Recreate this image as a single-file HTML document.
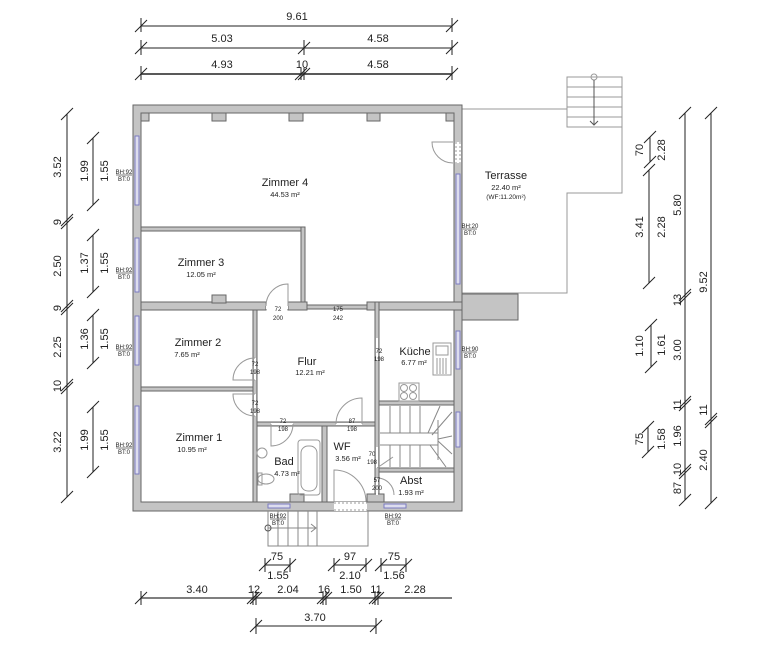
<!DOCTYPE html>
<html><head><meta charset="utf-8"><style>
html,body{margin:0;padding:0;background:#fff}
svg{display:block}
text{font-family:"Liberation Sans",sans-serif;fill:#222}
.d{font-size:11px;text-anchor:middle}
.r{font-size:11px;text-anchor:middle}
.a{font-size:7.5px;text-anchor:middle}
.s{font-size:6.5px;text-anchor:middle}
.t{font-size:6px;text-anchor:middle}
.w{fill:#c4c4c4;stroke:#666;stroke-width:1}
.ln{stroke:#222;stroke-width:1;fill:none}
.th{stroke:#999;stroke-width:1;fill:none}
</style></head><body>
<svg width="768" height="655" viewBox="0 0 768 655" xmlns="http://www.w3.org/2000/svg">
<defs>
<g id="tk"><line x1="-6" y1="6" x2="6" y2="-6" stroke="#222" stroke-width="1"/></g>
</defs>
<!-- terrace -->
<path d="M462 109 H567 M622 127 V193 H567 V293 H462" class="th"/>
<rect x="567" y="77" width="55" height="50" class="th"/>
<line x1="567" y1="87" x2="622" y2="87" class="th"/><line x1="567" y1="97" x2="622" y2="97" class="th"/>
<line x1="567" y1="107" x2="622" y2="107" class="th"/><line x1="567" y1="117" x2="622" y2="117" class="th"/>
<circle cx="594" cy="77" r="3" class="th" stroke="#555"/>
<line x1="594" y1="80" x2="594" y2="125" stroke="#555"/><path d="M590 121 L594 125 L598 121" stroke="#555" fill="none"/>
<rect x="462" y="294" width="56" height="26" class="w"/>
<text class="r" x="506" y="179">Terrasse</text>
<text class="a" x="506" y="190">22.40 m²</text>
<text class="s" x="506" y="199">(WF:11.20m²)</text>

<!-- outer walls -->
<path class="w" fill-rule="evenodd" d="M133 105 H462 V511 H133 Z M141 113 V502 H454 V113 Z"/>
<!-- piers top -->
<rect class="w" x="212" y="113" width="14" height="8"/><rect class="w" x="289" y="113" width="14" height="8"/><rect class="w" x="367" y="113" width="13" height="8"/>
<rect class="w" x="141" y="113" width="8" height="8"/><rect class="w" x="446" y="113" width="8" height="8"/>
<!-- left windows -->
<g fill="#dde" stroke="#7a7ac0" stroke-width="1">
<rect x="135" y="136" width="4" height="69"/><rect x="135" y="238" width="4" height="54"/><rect x="135" y="316" width="4" height="49"/><rect x="135" y="406" width="4" height="68"/>
<rect x="456" y="174" width="4" height="110"/><rect x="456" y="331" width="4" height="38"/><rect x="456" y="412" width="4" height="35"/>
<rect x="268" y="504" width="22" height="4"/><rect x="384" y="504" width="22" height="4"/>
</g>
<!-- terrace door -->
<rect x="455" y="142" width="6" height="21" fill="#fff"/>
<line x1="456" y1="142" x2="456" y2="163" stroke="#999" stroke-dasharray="2,2"/><line x1="460" y1="142" x2="460" y2="163" stroke="#999" stroke-dasharray="2,2"/>
<path d="M453 163 A21 21 0 0 1 432 142 H453" class="th" stroke="#555"/>
<!-- bottom door -->
<rect x="334" y="502" width="33" height="9" fill="#fff"/>
<line x1="334" y1="503" x2="367" y2="503" stroke="#999" stroke-dasharray="2,2"/><line x1="334" y1="510" x2="367" y2="510" stroke="#999" stroke-dasharray="2,2"/>
<path d="M334 502 V470 A32 32 0 0 1 366 502" class="th" stroke="#555"/>

<!-- interior walls -->
<rect class="w" x="141" y="227" width="164" height="4"/>
<rect class="w" x="301" y="227" width="4" height="78"/>
<rect class="w" x="141" y="302" width="125" height="8"/>
<rect class="w" x="212" y="295" width="14" height="8"/>
<rect class="w" x="288" y="302" width="19" height="8"/>
<rect class="w" x="307" y="305" width="60" height="4" fill="#fff"/>
<rect class="w" x="367" y="302" width="95" height="8"/>
<rect class="w" x="375" y="302" width="4" height="200"/>
<rect class="w" x="253" y="310" width="4" height="192"/>
<rect class="w" x="141" y="387" width="112" height="4"/>
<rect class="w" x="257" y="422" width="118" height="4"/>
<rect class="w" x="322" y="426" width="5" height="76"/>
<rect class="w" x="379" y="401" width="75" height="4"/>
<rect class="w" x="379" y="468" width="75" height="4"/>
<rect class="w" x="290" y="494" width="14" height="8"/><rect class="w" x="367" y="494" width="17" height="8"/>
<!-- door openings (white gaps) -->
<g fill="#fff">
<rect x="266" y="303" width="22" height="6"/>
<rect x="254" y="358" width="2" height="22"/><rect x="254" y="394" width="2" height="22"/>
<rect x="271" y="423" width="22" height="2"/><rect x="336" y="423" width="26" height="2"/>
<rect x="376" y="338" width="2" height="22"/><rect x="376" y="447" width="2" height="21"/><rect x="376" y="478" width="2" height="17"/>
</g>
<g class="th" stroke="#555">
<path d="M266 306 A22 22 0 0 1 288 284 V306"/>
<path d="M255 358 A22 22 0 0 0 233 380 H255"/>
<path d="M255 416 A22 22 0 0 1 233 394 H255"/>
<path d="M271 424 V446 A22 22 0 0 0 293 424"/>
<path d="M336 424 A26 26 0 0 1 362 398 V424"/>
<path d="M377 468 L393 457"/><path d="M377 478 A17 17 0 0 1 394 495"/>
</g>
<!-- kitchen -->
<rect x="433" y="343" width="18" height="32" class="th"/><rect x="436" y="346" width="12" height="9" class="th"/>
<g stroke="#999"><line x1="437" y1="358" x2="437" y2="374"/><line x1="440" y1="358" x2="440" y2="374"/><line x1="443" y1="358" x2="443" y2="374"/><line x1="446" y1="358" x2="446" y2="374"/></g>
<rect x="399" y="383" width="20" height="18" class="th"/>
<g class="th"><circle cx="404" cy="388" r="3.5"/><circle cx="413" cy="388" r="3.5"/><circle cx="404" cy="396" r="3.5"/><circle cx="413" cy="396" r="3.5"/></g>
<!-- stairs -->
<g stroke="#888" fill="none">
<line x1="380" y1="433" x2="438" y2="433"/><line x1="380" y1="445" x2="438" y2="445"/><line x1="438" y1="420" x2="438" y2="460"/>
<line x1="390" y1="406" x2="390" y2="433"/><line x1="400" y1="406" x2="400" y2="433"/><line x1="410" y1="406" x2="410" y2="433"/><line x1="420" y1="406" x2="420" y2="433"/>
<line x1="390" y1="445" x2="390" y2="467"/><line x1="400" y1="445" x2="400" y2="467"/><line x1="410" y1="445" x2="410" y2="467"/><line x1="420" y1="445" x2="420" y2="467"/>
<line x1="428" y1="433" x2="440" y2="406"/><line x1="432" y1="435" x2="452" y2="412"/><line x1="438" y1="439" x2="452" y2="436"/><line x1="438" y1="441" x2="452" y2="454"/><line x1="430" y1="445" x2="446" y2="467"/>
</g>
<!-- bad -->
<rect x="298" y="440" width="22" height="55" rx="3" class="th"/><rect x="301" y="446" width="16" height="45" rx="7" class="th"/>
<ellipse cx="262" cy="453" rx="5" ry="5" class="th"/><ellipse cx="266" cy="479" rx="8" ry="5" class="th"/><rect x="258" y="473" width="4" height="12" class="th"/>
<!-- bottom outdoor stair -->
<g stroke="#888" fill="none">
<path d="M268 511 V546 H368 V511"/>
<line x1="278" y1="511" x2="278" y2="546"/><line x1="288" y1="511" x2="288" y2="546"/><line x1="298" y1="511" x2="298" y2="546"/><line x1="308" y1="511" x2="308" y2="546"/><line x1="317" y1="511" x2="317" y2="546"/>
<line x1="268" y1="528" x2="316" y2="528"/><path d="M311 524 L316 528 L311 532"/>
</g>
<circle cx="268" cy="528" r="3" fill="none" stroke="#555"/>

<!-- room labels -->
<text class="r" x="285" y="186">Zimmer 4</text><text class="a" x="285" y="197">44.53 m²</text>
<text class="r" x="201" y="266">Zimmer 3</text><text class="a" x="201" y="277">12.05 m²</text>
<text class="r" x="198" y="346">Zimmer 2</text><text class="a" x="187" y="357">7.65 m²</text>
<text class="r" x="307" y="365">Flur</text><text class="a" x="310" y="375">12.21 m²</text>
<text class="r" x="415" y="355">Küche</text><text class="a" x="414" y="365">6.77 m²</text>
<text class="r" x="199" y="441">Zimmer 1</text><text class="a" x="192" y="452">10.95 m²</text>
<text class="r" x="284" y="465">Bad</text><text class="a" x="287" y="476">4.73 m²</text>
<text class="r" x="342" y="450">WF</text><text class="a" x="348" y="461">3.56 m²</text>
<text class="r" x="411" y="484">Abst</text><text class="a" x="411" y="495">1.93 m²</text>

<!-- door dims -->
<g class="t">
<text x="278" y="311">72</text><text x="278" y="320">200</text>
<text x="338" y="311">175</text><text x="338" y="320">242</text>
<text x="255" y="366">72</text><text x="255" y="374">198</text>
<text x="255" y="405">72</text><text x="255" y="413">198</text>
<text x="283" y="423">72</text><text x="283" y="431">198</text>
<text x="352" y="423">87</text><text x="352" y="431">198</text>
<text x="379" y="353">72</text><text x="379" y="361">198</text>
<text x="372" y="456">70</text><text x="372" y="464">198</text>
<text x="377" y="482">57</text><text x="377" y="490">200</text>
<text x="124" y="174">BH:92</text><text x="124" y="181">BT:0</text>
<text x="124" y="272">BH:92</text><text x="124" y="279">BT:0</text>
<text x="124" y="349">BH:92</text><text x="124" y="356">BT:0</text>
<text x="124" y="447">BH:92</text><text x="124" y="454">BT:0</text>
<text x="470" y="228">BH:20</text><text x="470" y="235">BT:0</text>
<text x="470" y="351">BH:90</text><text x="470" y="358">BT:0</text>
<text x="278" y="518">BH:92</text><text x="278" y="525">BT:0</text>
<text x="393" y="518">BH:92</text><text x="393" y="525">BT:0</text>
</g>
<g stroke="#222" stroke-width="0.6"><line x1="116" y1="175" x2="132" y2="175"/><line x1="116" y1="273" x2="132" y2="273"/><line x1="116" y1="350" x2="132" y2="350"/><line x1="116" y1="448" x2="132" y2="448"/><line x1="463" y1="229" x2="477" y2="229"/><line x1="463" y1="352" x2="477" y2="352"/><line x1="270" y1="519" x2="286" y2="519"/><line x1="385" y1="519" x2="401" y2="519"/></g>

<!-- top dims -->
<g class="ln">
<line x1="141" y1="26" x2="452" y2="26"/><line x1="141" y1="48" x2="452" y2="48"/><line x1="141" y1="74" x2="452" y2="74" stroke-width="1.5"/>
<line x1="141" y1="18" x2="141" y2="32"/><line x1="452" y1="18" x2="452" y2="32"/>
<line x1="141" y1="40" x2="141" y2="55"/><line x1="304" y1="40" x2="304" y2="55"/><line x1="452" y1="40" x2="452" y2="55"/>
<line x1="141" y1="66" x2="141" y2="80"/><line x1="301" y1="68" x2="301" y2="80"/><line x1="304" y1="68" x2="304" y2="80"/><line x1="452" y1="66" x2="452" y2="80"/>
</g>
<use href="#tk" x="141" y="26"/><use href="#tk" x="452" y="26"/>
<use href="#tk" x="141" y="48"/><use href="#tk" x="304" y="48"/><use href="#tk" x="452" y="48"/>
<use href="#tk" x="141" y="74"/><use href="#tk" x="301" y="74"/><use href="#tk" x="304" y="74"/><use href="#tk" x="452" y="74"/>
<text class="d" x="297" y="20">9.61</text>
<text class="d" x="222" y="42">5.03</text><text class="d" x="378" y="42">4.58</text>
<text class="d" x="222" y="68">4.93</text><text class="d" x="302" y="68">10</text><text class="d" x="378" y="68">4.58</text>

<!-- left dims -->
<g class="ln">
<line x1="67" y1="114" x2="67" y2="497"/>
<line x1="93" y1="138" x2="93" y2="205"/><line x1="93" y1="235" x2="93" y2="292"/><line x1="93" y1="315" x2="93" y2="363"/><line x1="93" y1="407" x2="93" y2="472"/>
</g>
<use href="#tk" x="67" y="114"/><use href="#tk" x="67" y="220"/><use href="#tk" x="67" y="223"/><use href="#tk" x="67" y="306"/><use href="#tk" x="67" y="309"/><use href="#tk" x="67" y="385"/><use href="#tk" x="67" y="388"/><use href="#tk" x="67" y="497"/>
<use href="#tk" x="93" y="138"/><use href="#tk" x="93" y="205"/><use href="#tk" x="93" y="235"/><use href="#tk" x="93" y="292"/><use href="#tk" x="93" y="315"/><use href="#tk" x="93" y="363"/><use href="#tk" x="93" y="407"/><use href="#tk" x="93" y="472"/>
<g class="d">
<text transform="translate(61,167) rotate(-90)">3.52</text>
<text transform="translate(61,222) rotate(-90)">9</text>
<text transform="translate(61,266) rotate(-90)">2.50</text>
<text transform="translate(61,308) rotate(-90)">9</text>
<text transform="translate(61,347) rotate(-90)">2.25</text>
<text transform="translate(61,386) rotate(-90)">10</text>
<text transform="translate(61,442) rotate(-90)">3.22</text>
<text transform="translate(88,171) rotate(-90)">1.99</text><text transform="translate(108,171) rotate(-90)">1.55</text>
<text transform="translate(88,263) rotate(-90)">1.37</text><text transform="translate(108,263) rotate(-90)">1.55</text>
<text transform="translate(88,339) rotate(-90)">1.36</text><text transform="translate(108,339) rotate(-90)">1.55</text>
<text transform="translate(88,440) rotate(-90)">1.99</text><text transform="translate(108,440) rotate(-90)">1.55</text>
</g>

<!-- right dims -->
<g class="ln">
<line x1="685" y1="113" x2="685" y2="500"/><line x1="711" y1="113" x2="711" y2="503"/>
<line x1="650" y1="137" x2="650" y2="162"/><line x1="649" y1="170" x2="649" y2="283"/>
<line x1="651" y1="325" x2="651" y2="367"/><line x1="648" y1="427" x2="648" y2="452"/>
</g>
<use href="#tk" x="685" y="113"/><use href="#tk" x="685" y="295"/><use href="#tk" x="685" y="298"/><use href="#tk" x="685" y="402"/><use href="#tk" x="685" y="405"/><use href="#tk" x="685" y="470"/><use href="#tk" x="685" y="473"/><use href="#tk" x="685" y="500"/>
<use href="#tk" x="711" y="113"/><use href="#tk" x="711" y="419"/><use href="#tk" x="711" y="422"/><use href="#tk" x="711" y="503"/>
<use href="#tk" x="650" y="137"/><use href="#tk" x="650" y="162"/><use href="#tk" x="649" y="170"/><use href="#tk" x="649" y="283"/>
<use href="#tk" x="651" y="325"/><use href="#tk" x="651" y="367"/><use href="#tk" x="648" y="427"/><use href="#tk" x="648" y="452"/>
<g class="d">
<text transform="translate(681,205) rotate(-90)">5.80</text>
<text transform="translate(681,300) rotate(-90)">13</text>
<text transform="translate(681,350) rotate(-90)">3.00</text>
<text transform="translate(681,405) rotate(-90)">11</text>
<text transform="translate(681,436) rotate(-90)">1.96</text>
<text transform="translate(681,469) rotate(-90)">10</text>
<text transform="translate(681,488) rotate(-90)">87</text>
<text transform="translate(707,282) rotate(-90)">9.52</text>
<text transform="translate(707,410) rotate(-90)">11</text>
<text transform="translate(707,460) rotate(-90)">2.40</text>
<text transform="translate(643,150) rotate(-90)">70</text><text transform="translate(665,150) rotate(-90)">2.28</text>
<text transform="translate(643,227) rotate(-90)">3.41</text><text transform="translate(665,227) rotate(-90)">2.28</text>
<text transform="translate(643,346) rotate(-90)">1.10</text><text transform="translate(665,345) rotate(-90)">1.61</text>
<text transform="translate(643,439) rotate(-90)">75</text><text transform="translate(665,439) rotate(-90)">1.58</text>
</g>

<!-- bottom dims -->
<g class="ln">
<line x1="265" y1="565" x2="290" y2="565"/><line x1="334" y1="565" x2="366" y2="565"/><line x1="381" y1="565" x2="406" y2="565"/>
<line x1="265" y1="558" x2="265" y2="572"/><line x1="290" y1="558" x2="290" y2="572"/><line x1="334" y1="558" x2="334" y2="572"/><line x1="366" y1="558" x2="366" y2="572"/><line x1="381" y1="558" x2="381" y2="572"/><line x1="406" y1="558" x2="406" y2="572"/>
<line x1="141" y1="598" x2="452" y2="598" stroke-width="1.5" stroke="#555"/>
<line x1="141" y1="591" x2="141" y2="605"/><line x1="253" y1="591" x2="253" y2="605"/><line x1="256" y1="591" x2="256" y2="605"/><line x1="323" y1="591" x2="323" y2="605"/><line x1="326" y1="591" x2="326" y2="605"/><line x1="375" y1="591" x2="375" y2="605"/><line x1="378" y1="591" x2="378" y2="605"/>
<line x1="256" y1="626" x2="376" y2="626"/><line x1="256" y1="618" x2="256" y2="634"/><line x1="376" y1="618" x2="376" y2="634"/>
</g>
<use href="#tk" x="265" y="565"/><use href="#tk" x="290" y="565"/><use href="#tk" x="334" y="565"/><use href="#tk" x="366" y="565"/><use href="#tk" x="381" y="565"/><use href="#tk" x="406" y="565"/>
<use href="#tk" x="141" y="598"/><use href="#tk" x="253" y="598"/><use href="#tk" x="256" y="598"/><use href="#tk" x="323" y="598"/><use href="#tk" x="326" y="598"/><use href="#tk" x="375" y="598"/><use href="#tk" x="378" y="598"/>
<use href="#tk" x="256" y="626"/><use href="#tk" x="376" y="626"/>
<g class="d">
<text x="277" y="560">75</text><text x="278" y="579">1.55</text>
<text x="350" y="560">97</text><text x="350" y="579">2.10</text>
<text x="394" y="560">75</text><text x="394" y="579">1.56</text>
<text x="197" y="593">3.40</text><text x="254" y="593">12</text><text x="288" y="593">2.04</text><text x="324" y="593">16</text><text x="351" y="593">1.50</text><text x="376" y="593">11</text><text x="415" y="593">2.28</text>
<text x="315" y="621">3.70</text>
</g>
</svg>
</body></html>
